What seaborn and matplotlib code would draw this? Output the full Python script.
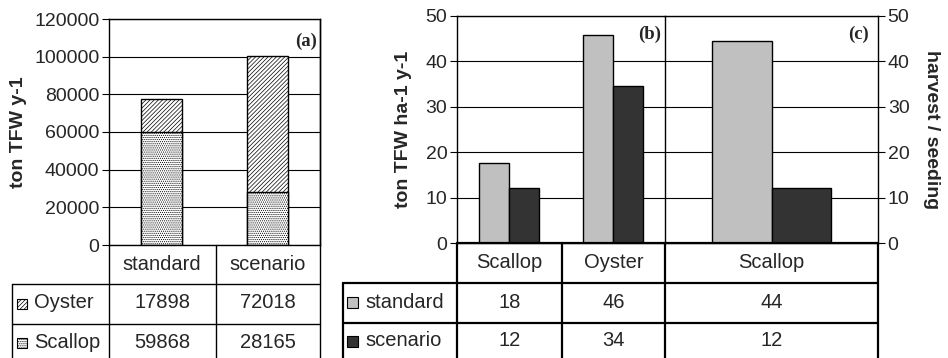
import matplotlib
matplotlib.use('Agg')
import matplotlib.pyplot as plt
import seaborn as sns
import pandas as pd
from matplotlib.lines import Line2D
from matplotlib.patches import Rectangle

# --- data ---
scenarios = ["standard", "scenario"]
oyster_prod = [17898, 72018]
scallop_prod = [59868, 28165]

species_b = ["Scallop", "Oyster"]
yield_standard = [17.6, 45.9]
yield_scenario = [12.2, 34.5]
yield_labels_standard = ["18", "46"]
yield_labels_scenario = ["12", "34"]

species_c = ["Scallop"]
ratio_standard = [44.5]
ratio_scenario = [12.2]
ratio_labels_standard = ["44"]
ratio_labels_scenario = ["12"]

LIGHT = "#c0c0c0"
DARK = "#333333"

sns.set_style("white")
plt.rcParams['font.family'] = ['Liberation Sans', 'DejaVu Sans']
plt.rcParams['hatch.linewidth'] = 0.5

W, H = 948, 358
FS = 14.5
fig = plt.figure(figsize=(W / 100, H / 100), dpi=100)


def fbox(x0, y0, x1, y1):
    # pixel box -> figure fraction rect
    return [x0 / W, 1 - y1 / H, (x1 - x0) / W, (y1 - y0) / H]


def hline(x0, x1, y, lw):
    fig.add_artist(Line2D([x0 / W, x1 / W], [1 - y / H, 1 - y / H], color="black", lw=lw))


def vline(x, y0, y1, lw):
    fig.add_artist(Line2D([x / W, x / W], [1 - y0 / H, 1 - y1 / H], color="black", lw=lw))


def ftext(x, y, s, **kw):
    fig.text(x / W, 1 - y / H, s, ha="center", va="center", fontsize=FS, **kw)


def style_axes(ax, ymax, step, side="left"):
    ax.set_ylim(0, ymax)
    ax.set_yticks(range(0, ymax + 1, step))
    ax.set_xticks([])
    ax.set_xlabel("")
    ax.grid(axis="y", color="black", lw=0.8)
    ax.set_axisbelow(True)
    for sp in ax.spines.values():
        sp.set_color("black")
        sp.set_linewidth(1.0)
    if side == "left":
        ax.tick_params(axis="y", left=True, right=False, direction="out")
    else:
        ax.yaxis.tick_right()
        ax.tick_params(axis="y", left=False, right=True, direction="out")
    ax.tick_params(axis="y", length=5, width=0.8, color="black", labelsize=14, pad=2)


# ---------------- panel (a) ----------------
ax_a = fig.add_axes(fbox(109, 19, 320, 245))
df_a = pd.DataFrame({"case": scenarios,
                     "total": [o + s for o, s in zip(oyster_prod, scallop_prod)],
                     "scallop": scallop_prod})
sns.barplot(data=df_a, x="case", y="total", ax=ax_a, color="white", width=0.39,
            edgecolor="black", linewidth=1.0, hatch="////////")
sns.barplot(data=df_a, x="case", y="scallop", ax=ax_a, color="white", width=0.39,
            edgecolor="black", linewidth=1.0, hatch="........")
style_axes(ax_a, 120000, 20000)
ax_a.set_ylabel("ton TFW y-1", fontsize=14, fontweight="bold", labelpad=5)
ax_a.text(0.985, 0.9, "(a)", transform=ax_a.transAxes, ha="right", va="center",
          fontsize=13.5, fontweight="bold", family="Liberation Serif")

# table (a)
lw_a = 1.0
vline(109, 245, 358, lw_a)
vline(216, 245, 358, lw_a)
vline(320, 19, 358, lw_a)
vline(12, 284, 358, lw_a)
hline(12, 320, 284, lw_a)
hline(12, 320, 324, lw_a)
for i, c in enumerate(scenarios):
    cx = [162, 268][i]
    ftext(cx, 264, c)
    ftext(cx, 303, str(oyster_prod[i]))
    ftext(cx, 342, str(scallop_prod[i]))
fig.add_artist(Rectangle((17 / W, 1 - 309 / H), 10 / W, 10 / H, transform=fig.transFigure,
                         facecolor="white", edgecolor="black", lw=0.8, hatch="////////"))
fig.add_artist(Rectangle((17 / W, 1 - 348 / H), 10 / W, 10 / H, transform=fig.transFigure,
                         facecolor="white", edgecolor="black", lw=0.8, hatch="........"))
fig.text(34 / W, 1 - 303 / H, "Oyster", ha="left", va="center", fontsize=FS)
fig.text(34 / W, 1 - 342 / H, "Scallop", ha="left", va="center", fontsize=FS)

# ---------------- panel (b) ----------------
ax_b = fig.add_axes(fbox(457, 16, 665, 243))
df_b = pd.DataFrame({"species": species_b * 2,
                     "case": ["standard"] * 2 + ["scenario"] * 2,
                     "value": yield_standard + yield_scenario})
sns.barplot(data=df_b, x="species", y="value", hue="case", ax=ax_b,
            palette=[LIGHT, DARK], width=0.57, edgecolor="black", linewidth=1.0,
            legend=False)
style_axes(ax_b, 50, 10)
ax_b.spines["right"].set_visible(False)
ax_b.set_ylabel("ton TFW ha-1 y-1", fontsize=14, fontweight="bold", labelpad=10)
ax_b.text(0.98, 0.92, "(b)", transform=ax_b.transAxes, ha="right", va="center",
          fontsize=13.5, fontweight="bold", family="Liberation Serif")

# ---------------- panel (c) ----------------
ax_c = fig.add_axes(fbox(665, 16, 878, 243))
df_c = pd.DataFrame({"species": species_c * 2,
                     "case": ["standard", "scenario"],
                     "value": ratio_standard + ratio_scenario})
sns.barplot(data=df_c, x="species", y="value", hue="case", ax=ax_c,
            palette=[LIGHT, DARK], width=0.56, edgecolor="black", linewidth=1.0,
            legend=False)
style_axes(ax_c, 50, 10, side="right")
ax_c.yaxis.set_label_position("right")
ax_c.spines["left"].set_visible(False)
ax_c.set_ylabel("harvest / seeding", fontsize=14, fontweight="bold", rotation=270,
                labelpad=22)
ax_c.text(0.955, 0.92, "(c)", transform=ax_c.transAxes, ha="right", va="center",
          fontsize=13.5, fontweight="bold", family="Liberation Serif")

# table (b)/(c)
lw_b = 1.6
for x in (457, 562, 665, 878):
    vline(x, 243, 358, lw_b)
vline(665, 16, 243, 1.0)
vline(343, 283, 358, lw_b)
hline(457, 878, 243, lw_b)
hline(343, 878, 283, lw_b)
hline(343, 878, 323, lw_b)
ftext(509.5, 263, species_b[0])
ftext(613.5, 263, species_b[1])
ftext(771.5, 263, species_c[0])
for i in range(2):
    cx = [509.5, 613.5][i]
    ftext(cx, 302, yield_labels_standard[i])
    ftext(cx, 341, yield_labels_scenario[i])
ftext(771.5, 302, ratio_labels_standard[0])
ftext(771.5, 341, ratio_labels_scenario[0])
fig.add_artist(Rectangle((347 / W, 1 - 308 / H), 11 / W, 11 / H, transform=fig.transFigure,
                         facecolor=LIGHT, edgecolor="black", lw=0.8))
fig.add_artist(Rectangle((347 / W, 1 - 347 / H), 11 / W, 11 / H, transform=fig.transFigure,
                         facecolor=DARK, edgecolor="black", lw=0.8))
fig.text(365 / W, 1 - 302 / H, "standard", ha="left", va="center", fontsize=FS)
fig.text(365 / W, 1 - 341 / H, "scenario", ha="left", va="center", fontsize=FS)

fig.savefig("out.png", dpi=100)
